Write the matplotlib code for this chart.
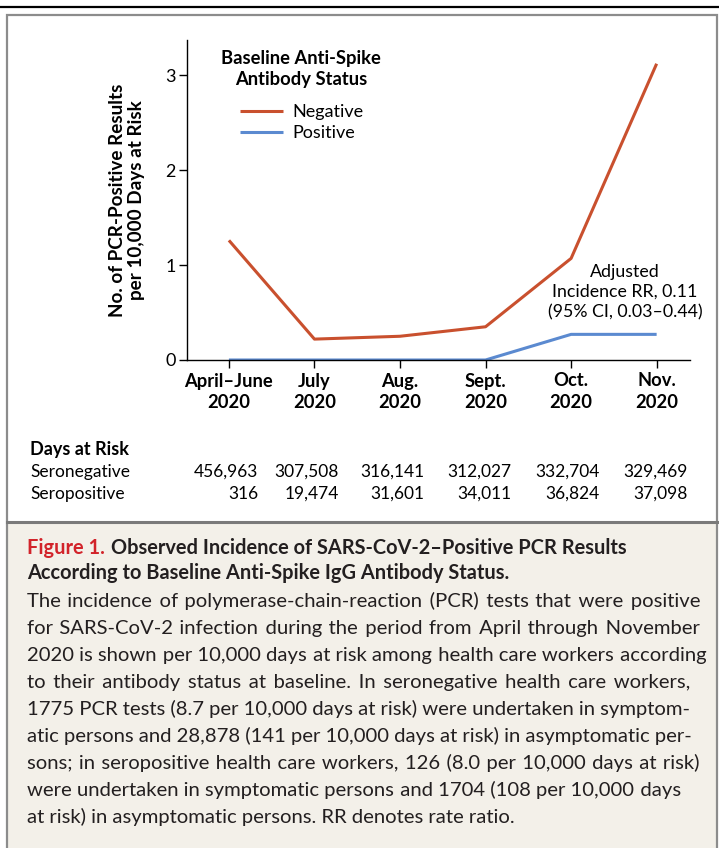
import matplotlib
matplotlib.use("Agg")
import matplotlib.pyplot as plt
from matplotlib.patches import Rectangle
from matplotlib.lines import Line2D

plt.rcParams['font.family'] = ['Lato', 'DejaVu Sans']

# data
months = ["April\u2013June\n2020", "July\n2020", "Aug.\n2020", "Sept.\n2020", "Oct.\n2020", "Nov.\n2020"]
negative = [1.26, 0.22, 0.25, 0.35, 1.07, 3.12]
positive = [0.0, 0.0, 0.0, 0.0, 0.27, 0.27]
days_seroneg = ["456,963", "307,508", "316,141", "312,027", "332,704", "329,469"]
days_seropos = ["316", "19,474", "31,601", "34,011", "36,824", "37,098"]

caption_lines = [
    "The incidence of polymerase-chain-reaction (PCR) tests that were positive",
    "for SARS-CoV-2 infection during the period from April through November",
    "2020 is shown per 10,000 days at risk among health care workers according",
    "to their antibody status at baseline. In seronegative health care workers,",
    "1775 PCR tests (8.7 per 10,000 days at risk) were undertaken in symptom-",
    "atic persons and 28,878 (141 per 10,000 days at risk) in asymptomatic per-",
    "sons; in seropositive health care workers, 126 (8.0 per 10,000 days at risk)",
    "were undertaken in symptomatic persons and 1704 (108 per 10,000 days",
    "at risk) in asymptomatic persons. RR denotes rate ratio.",
]
# right edges (px) of the caption lines, None = ragged
caption_right = [700, 700, 707, 691, 689, 691, 700, 681, None]

W, H = 719, 848
fig = plt.figure(figsize=(W / 100, H / 100), dpi=100)
renderer = fig.canvas.get_renderer()

def fx(px):
    return px / W

def fy(py):
    return 1 - py / H

def text_width(s, size):
    t = fig.text(0, 0, s, fontsize=size)
    w = t.get_window_extent(renderer).width
    t.remove()
    return w

# frame and caption background
fig.add_artist(Line2D([0, 1], [fy(7), fy(7)], color="black", lw=1.6))
fig.add_artist(Rectangle((fx(7), fy(848)), fx(717) - fx(7), fy(522) - fy(848),
                         facecolor="#f3f0e9", edgecolor="none"))
fig.add_artist(Rectangle((fx(7), fy(900)), fx(717) - fx(7), fy(15) - fy(900),
                         facecolor="none", edgecolor="#8c8c8c", lw=1.6))
fig.add_artist(Line2D([fx(7), fx(717)], [fy(522), fy(522)], color="#7a7a7a", lw=2.2))

ax = fig.add_axes([fx(187), fy(360), fx(690) - fx(187), fy(40) - fy(360)])
x = list(range(len(months)))
ax.plot(x, negative, color="#c9502e", lw=2.2, solid_capstyle="butt", label="Negative")
ax.plot(x, positive, color="#5b8ad0", lw=2.2, solid_capstyle="butt", label="Positive")

ax.set_xlim(-0.49, 5.39)
ax.set_ylim(0, 3.37)
ax.set_yticks([0, 1, 2, 3])
ax.set_xticks(x)
ax.set_xticklabels(months, fontsize=13.2, fontweight="bold", linespacing=1.3)
ax.tick_params(axis="y", labelsize=13, length=6, width=1, pad=2)
ax.tick_params(axis="x", length=6, width=1, pad=3)
for s in ["top", "right"]:
    ax.spines[s].set_visible(False)
ax.spines["left"].set_linewidth(1)
ax.spines["bottom"].set_linewidth(1)

fig.text(fx(127), fy(200), "No. of PCR-Positive Results\nper 10,000 Days at Risk",
         rotation=90, ha="center", va="center", fontsize=13.6, fontweight="bold",
         linespacing=1.15)

fig.text(fx(301), fy(69), "Baseline Anti-Spike\nAntibody Status", ha="center", va="center",
         fontsize=13.2, fontweight="bold", linespacing=1.3)
leg = ax.legend(loc="upper left", bbox_to_anchor=(fx(240), fy(104)),
                bbox_transform=fig.transFigure, frameon=False, fontsize=13,
                handlelength=2.4, handletextpad=0.5, labelspacing=0.3,
                borderpad=0, borderaxespad=0)

ax.text(4.63, (360 - 292) / 95, "Adjusted\nIncidence RR, 0.11\n(95% CI, 0.03\u20130.44)",
        ha="center", va="center", fontsize=12.8, linespacing=1.3)

# days at risk table
fig.text(fx(30), fy(450), "Days at Risk", fontsize=13, fontweight="bold", va="center")
fig.text(fx(30), fy(472), "Seronegative", fontsize=12.5, va="center")
fig.text(fx(30), fy(494), "Seropositive", fontsize=12.5, va="center")
col_right = [258, 339, 424, 511, 600, 688]
for i in range(len(months)):
    fig.text(fx(col_right[i]), fy(472), days_seroneg[i], fontsize=12.5, va="center", ha="right")
    fig.text(fx(col_right[i]), fy(494), days_seropos[i], fontsize=12.5, va="center", ha="right")

# caption header
t = fig.text(fx(27), fy(548), "Figure 1.", fontsize=14.4, fontweight="bold",
             color="#d2232a", va="center")
bb = t.get_window_extent(renderer)
fig.text(fx(bb.x1 + 6), fy(548), "Observed Incidence of SARS-CoV-2\u2013Positive PCR Results",
         fontsize=14.4, fontweight="bold", va="center", color="#231f20")
fig.text(fx(27), fy(573), "According to Baseline Anti-Spike IgG Antibody Status.",
         fontsize=14.4, fontweight="bold", va="center", color="#231f20")

# caption body, justified by padding the word gaps with hair spaces
body_size = 14.6
HS = "\u200a"
hair = (text_width("x" + HS * 20 + "x", body_size) - text_width("xx", body_size)) / 20
for i, line in enumerate(caption_lines):
    right = caption_right[i]
    if right is not None and hair > 0:
        words = line.split(" ")
        n_gaps = len(words) - 1
        extra = right - 27 - text_width(line, body_size)
        n_hair = max(0, int(round(extra / hair)))
        out = words[0]
        for g in range(n_gaps):
            k = (g + 1) * n_hair // n_gaps - g * n_hair // n_gaps
            out += " " + HS * k + words[g + 1]
        line = out
    fig.text(fx(27), fy(607 + 27 * i), line, fontsize=body_size, va="baseline",
             color="#231f20")

fig.savefig("out.png", dpi=100)
